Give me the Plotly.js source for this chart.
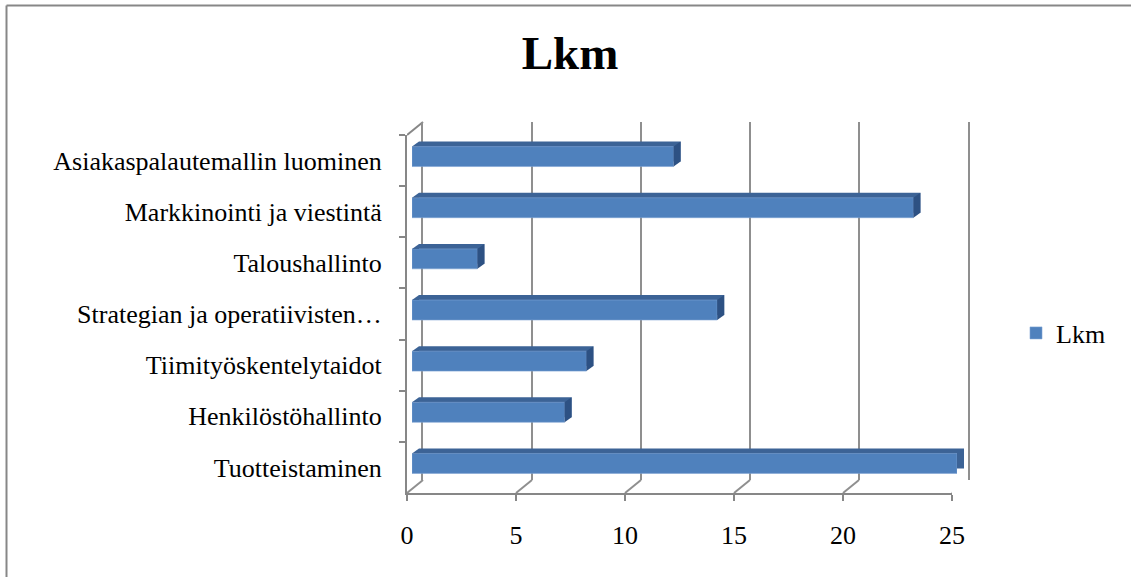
<!DOCTYPE html>
<html>
<head>
<meta charset="utf-8">
<script src="https://cdn.plot.ly/plotly-3.0.1.min.js"></script>
<style>
  html, body { margin: 0; padding: 0; background: #ffffff; }
  #chart { width: 1131px; height: 577px; }
</style>
</head>
<body>
<div id="chart"></div>
<script>
// Categories, listed top to bottom as they appear on the axis
var categories = [
  'Asiakaspalautemallin luominen',
  'Markkinointi ja viestintä',
  'Taloushallinto',
  'Strategian ja operatiivisten…',
  'Tiimityöskentelytaidot',
  'Henkilöstöhallinto',
  'Tuotteistaminen'
];
var lkm = [12, 23, 3, 14, 8, 7, 25];
var xTicks = [0, 5, 10, 15, 20, 25];
var seriesName = 'Lkm';

// ---- pseudo-3D geometry (pixels) ----
var PW = 1131, PH = 577;
var areaL = 407, areaR = 968, areaT = 122, areaB = 493;
var W = areaR - areaL, H = areaB - areaT;
var wallDX = 16, wallDY = 13;       // depth of the walls / floor
var barFrontDX = 5, barFrontDY = 4; // bar front face sits inside the depth
var barDepthX = 7, barDepthY = 5;   // bar thickness in depth
var barWidth = 0.39;                // fraction of a category slot
var frontW = W - wallDX, frontH = H - wallDY;
var slotPx = frontH / categories.length;
var halfBar = barWidth * slotPx / 2;

var serif = 'Liberation Serif, Times New Roman, serif';
var axisGrey = '#878787';
var gridGrey = '#8f8f8f';
var faceColor = '#4f81bd';
var topColor = '#3c6396';
var sideColor = '#2d5183';

var idx = categories.map(function (c, i) { return i; });
var revRange = [categories.length - 0.5, -0.5];

function dom(offset, len, total) { return [offset / total, (offset + len) / total]; }

var traces = [
  // keeps the category axis populated (labels on the side wall)
  {
    type: 'scatter', mode: 'markers', x: categories.map(function () { return 0; }), y: categories,
    xaxis: 'x', yaxis: 'y', marker: { opacity: 0 }, hoverinfo: 'skip', showlegend: false
  },
  // back wall plane (carries the value gridlines)
  {
    type: 'scatter', mode: 'markers', x: xTicks, y: xTicks.map(function () { return 0; }),
    xaxis: 'x2', yaxis: 'y2', marker: { opacity: 0 }, hoverinfo: 'skip', showlegend: false
  },
  // back face of each bar (shows as the top strip)
  {
    type: 'bar', orientation: 'h', x: lkm, y: idx, width: barWidth,
    xaxis: 'x3', yaxis: 'y3', marker: { color: topColor }, hoverinfo: 'skip', showlegend: false
  },
  // front face of each bar
  {
    type: 'bar', orientation: 'h', x: lkm, y: idx, width: barWidth, name: seriesName,
    xaxis: 'x4', yaxis: 'y4', marker: { color: faceColor, line: { color: '#7da3d4', width: 0.6 } },
    hoverinfo: 'skip', showlegend: true
  }
];

var shapes = [];
// outer chart frame (top and left edges)
shapes.push({ type: 'line', xref: 'paper', yref: 'paper', layer: 'above',
  x0: (6.5 - areaL) / W, x1: (PW + 20 - areaL) / W, y0: (areaB - 5.5) / H, y1: (areaB - 5.5) / H,
  line: { color: axisGrey, width: 2 } });
shapes.push({ type: 'line', xref: 'paper', yref: 'paper', layer: 'above',
  x0: (6.5 - areaL) / W, x1: (6.5 - areaL) / W, y0: (areaB - 5.5) / H, y1: (areaB - PH - 20) / H,
  line: { color: axisGrey, width: 2 } });

// floor diagonals from each front tick back to its wall gridline
xTicks.forEach(function (v) {
  shapes.push({ type: 'line', layer: 'below',
    xref: 'x', xsizemode: 'pixel', xanchor: v, x0: 0, x1: wallDX,
    yref: 'paper', ysizemode: 'pixel', yanchor: 0, y0: 0, y1: wallDY,
    line: { color: gridGrey, width: 2 } });
});
// top edge of the side wall
shapes.push({ type: 'line', layer: 'below',
  xref: 'x', xsizemode: 'pixel', xanchor: 0, x0: 0, x1: wallDX,
  yref: 'paper', ysizemode: 'pixel', yanchor: frontH / H, y0: 0, y1: wallDY,
  line: { color: axisGrey, width: 2 } });

// end caps and top-left corners of the bars
lkm.forEach(function (v, i) {
  shapes.push({ type: 'path', layer: 'above',
    xref: 'x4', xsizemode: 'pixel', xanchor: v,
    yref: 'y4', ysizemode: 'pixel', yanchor: i,
    path: 'M0,' + halfBar + 'L' + barDepthX + ',' + (halfBar + barDepthY) +
          'L' + barDepthX + ',' + (-halfBar + barDepthY) + 'L0,' + (-halfBar) + 'Z',
    fillcolor: sideColor, line: { width: 0 } });
  shapes.push({ type: 'path', layer: 'above',
    xref: 'x4', xsizemode: 'pixel', xanchor: 0,
    yref: 'y4', ysizemode: 'pixel', yanchor: i,
    path: 'M0,' + halfBar + 'L' + barDepthX + ',' + (halfBar + barDepthY) +
          'L' + barDepthX + ',' + halfBar + 'Z',
    fillcolor: topColor, line: { width: 0 } });
});

function hiddenAxis(extra) {
  var a = { showgrid: false, zeroline: false, showticklabels: false, ticks: '', showline: false, fixedrange: true };
  for (var k in extra) a[k] = extra[k];
  return a;
}

var layout = {
  width: PW, height: PH,
  margin: { l: areaL, r: PW - areaR, t: areaT, b: PH - areaB, pad: 0 },
  paper_bgcolor: '#ffffff', plot_bgcolor: 'rgba(0,0,0,0)',
  font: { family: serif, size: 26, color: '#000000' },
  showlegend: true,
  barmode: 'overlay',
  hovermode: false,
  title: {
    text: '<b>Lkm</b>', font: { family: serif, size: 47, color: '#000000' },
    xref: 'container', x: 570 / PW, xanchor: 'center',
    yref: 'container', y: 1 - 53 / PH, yanchor: 'middle'
  },
  legend: {
    xref: 'container', yref: 'container', x: 1016 / PW, y: 1 - 333 / PH,
    xanchor: 'left', yanchor: 'middle',
    font: { family: serif, size: 26, color: '#000000' },
    bgcolor: 'rgba(0,0,0,0)', borderwidth: 0
  },
  // front value axis (floor edge)
  xaxis: {
    domain: dom(0, frontW, W), anchor: 'y', range: [0, 25],
    tickmode: 'array', tickvals: xTicks, ticktext: xTicks.map(String),
    ticks: 'outside', ticklen: 6, tickwidth: 2, tickcolor: axisGrey,
    showline: true, linecolor: axisGrey, linewidth: 2,
    showgrid: false, zeroline: false, fixedrange: true,
    ticklabelstandoff: 12,
    tickfont: { family: serif, size: 26, color: '#000000' }
  },
  // front category axis (side wall edge)
  yaxis: {
    domain: dom(0, frontH, H), anchor: 'x', type: 'category',
    categoryorder: 'array', categoryarray: categories, range: revRange,
    ticks: 'outside', tickson: 'boundaries', ticklen: 6, tickwidth: 2, tickcolor: axisGrey,
    showline: true, linecolor: axisGrey, linewidth: 2,
    showgrid: false, zeroline: false, fixedrange: true,
    ticklabelstandoff: 18,
    tickfont: { family: serif, size: 26, color: '#000000' }
  },
  // back wall carrying the value gridlines; its side edges come from the mirrored y line
  xaxis2: hiddenAxis({
    domain: dom(wallDX, frontW, W), anchor: 'y2', range: [0, 25],
    tickmode: 'array', tickvals: xTicks, showgrid: true, gridcolor: gridGrey, gridwidth: 2
  }),
  yaxis2: hiddenAxis({
    domain: dom(wallDY, frontH, H), anchor: 'x2', range: [-1, 1],
    showline: true, mirror: true, linecolor: gridGrey, linewidth: 2
  }),
  // bar back faces
  xaxis3: hiddenAxis({ domain: dom(barFrontDX + barDepthX, frontW, W), anchor: 'y3', range: [0, 25] }),
  yaxis3: hiddenAxis({ domain: dom(barFrontDY + barDepthY, frontH, H), anchor: 'x3', range: revRange }),
  // bar front faces
  xaxis4: hiddenAxis({ domain: dom(barFrontDX, frontW, W), anchor: 'y4', range: [0, 25] }),
  yaxis4: hiddenAxis({ domain: dom(barFrontDY, frontH, H), anchor: 'x4', range: revRange }),
  shapes: shapes
};

Plotly.newPlot('chart', traces, layout, { staticPlot: true, displayModeBar: false });
</script>
</body>
</html>
